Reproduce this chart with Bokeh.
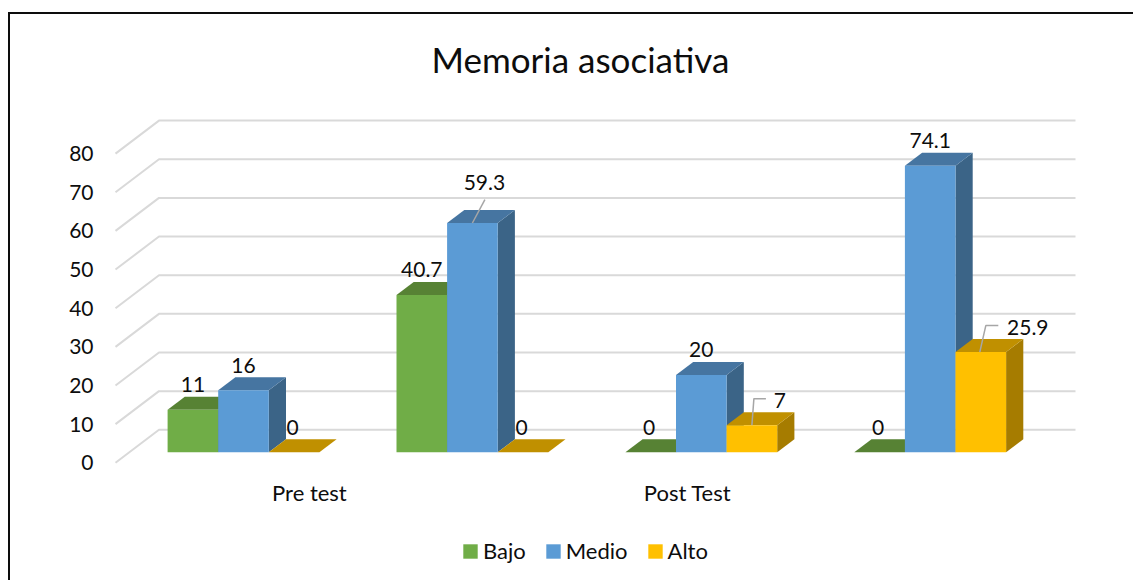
from bokeh.plotting import figure
from bokeh.models import (Range1d, LinearAxis, FixedTicker, Legend, LegendItem)
from bokeh.core.properties import value
from bokeh.embed import file_html
from bokeh.resources import INLINE

# ---- data ----
TITLE = "Memoria asociativa"
SERIES = ["Bajo", "Medio", "Alto"]
BAJO = [11, 40.7, 0, 0]
MEDIO = [16, 59.3, 20, 74.1]
ALTO = [0, 0, 7, 25.9]
Y_TICKS = [0, 10, 20, 30, 40, 50, 60, 70, 80]
X_LABELS = ["Pre test", "Post Test"]
X_LABEL_POS = [0.288, 1.94]

# ---- style ----
FRONT = ["#70AD47", "#5B9BD5", "#FFC000"]
TOP = ["#578234", "#4675A1", "#C09000"]
SIDE = ["#43682A", "#3B6487", "#A67C00"]
GRID = "#D9D9D9"
INK = "#0d0d0d"
FONT = "Lato"
ORG_X, ORG_Y = 10, 14                          # figure origin on the page
W, H = 1135 - ORG_X, 582 - ORG_Y
F_L, F_R, F_T, F_B = 93, 1135, 100, 582        # frame in page px
PX_UNIT_Y = 3.865
PX_UNIT_X = 228.9
X0_PX, Y0_PX = 243.0, 451.7                    # page px of category 0 / value 0
BAR = 50.6 / PX_UNIT_X
DX, DY = 17.2 / PX_UNIT_X, 13.0 / PX_UNIT_Y    # bar depth
FL_DX, FL_DY = 43.5 / PX_UNIT_X, 33.0 / PX_UNIT_Y  # wall depth
GRID_BASE = -10.6 / PX_UNIT_Y
X_LABEL_Y_PX = 492


def x_of(px):
    return (px - X0_PX) / PX_UNIT_X


def y_of(px):
    return (Y0_PX - px) / PX_UNIT_Y


p = figure(width=W, height=H, frame_width=F_R - F_L, frame_height=F_B - F_T,
           output_backend="svg", toolbar_location=None,
           x_range=Range1d(x_of(F_L), x_of(F_R)), y_range=Range1d(y_of(F_B), y_of(F_T)),
           x_axis_location=None, y_axis_location=None,
           min_border_left=F_L - ORG_X, min_border_right=0,
           min_border_top=F_T - ORG_Y, min_border_bottom=0,
           margin=(ORG_Y, 0, 0, ORG_X),
           styles={"box-shadow": f"-2px -2px 0 0 {INK}"})
p.grid.visible = False
p.outline_line_color = None
p.background_fill_color = "white"
p.border_fill_color = "white"

p.title.text = TITLE
p.title.align = "left"
p.title.text_font = FONT
p.title.text_font_size = "35px"
p.title.text_font_style = "normal"
p.title.text_color = INK
p.title.offset = 338
p.title.standoff = 42

# value axis: labels sit on the front edge of the floor
shift = -GRID_BASE
p.extra_y_ranges["axis"] = Range1d(y_of(F_B) + shift, y_of(F_T) + shift)
ax = LinearAxis(y_range_name="axis", ticker=FixedTicker(ticks=Y_TICKS))
ax.axis_line_color = None
ax.major_tick_line_color = None
ax.minor_tick_line_color = None
ax.major_tick_out = 0
ax.major_tick_in = 0
ax.major_label_standoff = 0
ax.major_label_text_font = FONT
ax.major_label_text_font_size = "21px"
ax.major_label_text_color = INK
p.add_layout(ax, "left")

# category labels
p.text(X_LABEL_POS, [y_of(X_LABEL_Y_PX)] * len(X_LABEL_POS), text=X_LABELS,
       text_align="center", text_baseline="middle",
       text_font=value(FONT), text_font_size="22px", text_color=INK)

# walls
gx, gy = [], []
for v in Y_TICKS:
    gx.append([x_of(115), x_of(115) + FL_DX, x_of(1075)])
    gy.append([v + GRID_BASE, v + GRID_BASE + FL_DY, v + GRID_BASE + FL_DY])
p.multi_line(gx, gy, line_color=GRID, line_width=2)

# bars
values = [BAJO, MEDIO, ALTO]
n_cat = len(BAJO)
fronts = {}
for c in range(n_cat):
    for s in range(3):
        v = values[s][c]
        left = c - 1.5 * BAR + s * BAR
        r = left + BAR
        p.patches([[r, r + DX, r + DX, r]], [[0, DY, v + DY, v]], fill_color=SIDE[s], line_color=None)
        p.patches([[left, r, r + DX, left + DX]], [[v, v, v + DY, v + DY]], fill_color=TOP[s], line_color=None)
        if v > 0:
            rend = p.vbar(x=[(left + r) / 2], width=BAR, bottom=[0], top=[v], fill_color=FRONT[s], line_color=None)
            if s not in fronts:
                fronts[s] = rend

# leaders: px offsets from the top-front centre of a bar
LEADERS = [
    (1, 1, [(0, 0), (12.5, -23.4)]),
    (2, 2, [(0, 0), (2, -26.5), (14, -26.5)]),
    (3, 2, [(-1, 0), (5, -26.5), (17.5, -26.5)]),
]
for c, s, pts in LEADERS:
    cx = c + (s - 1) * BAR
    p.line([cx + a / PX_UNIT_X for a, b in pts],
           [values[s][c] - b / PX_UNIT_Y for a, b in pts],
           line_color="#A6A6A6", line_width=1.5)

# data labels
NUDGE = {(1, 1): (12, 41), (2, 2): (28, 24.6), (3, 2): (47, 25)}
lx, ly, lt, xo, yo = [], [], [], [], []
for c in range(n_cat):
    for s in range(3):
        v = values[s][c]
        dx, up = NUDGE.get((c, s), (-1.5 if v == 0 else 0, 25))
        lx.append(c + (s - 1) * BAR)
        ly.append(v)
        lt.append(f"{v:g}")
        xo.append(dx)
        yo.append(-up)
p.text(lx, ly, text=lt, x_offset=xo, y_offset=yo, text_align="center", text_baseline="middle",
       text_font=value(FONT), text_font_size="21px", text_color=INK)

# legend
legend = Legend(items=[LegendItem(label=SERIES[s], renderers=[fronts[s]]) for s in range(3)],
                orientation="horizontal", border_line_color=None, background_fill_alpha=0,
                glyph_width=18, glyph_height=18, label_standoff=4, spacing=18,
                label_text_font=FONT, label_text_font_size="22px", label_text_color=INK,
                padding=0, margin=0, location=(368, 18))
p.add_layout(legend)

open("out.html", "w").write(file_html(p, INLINE))
